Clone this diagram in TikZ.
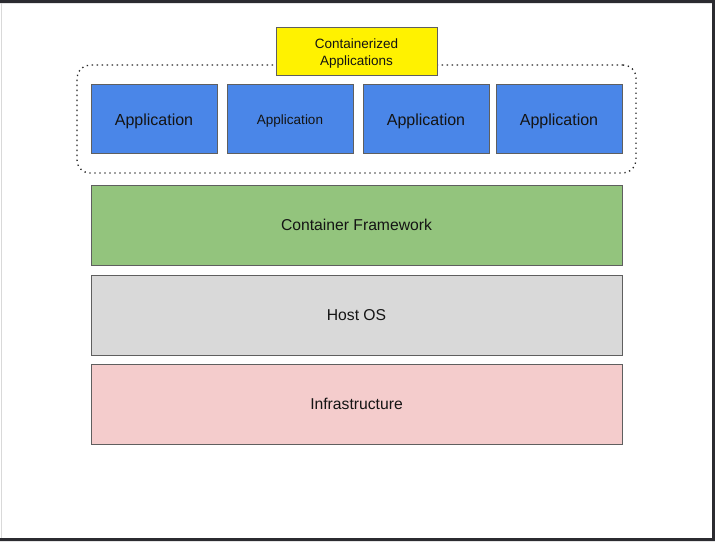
\documentclass[tikz,border=0pt]{standalone}
\usepackage{fontspec}
\setmainfont{Liberation Sans}
\usepackage{tikz}

\definecolor{appblue}{HTML}{4A86E8}
\definecolor{cfgreen}{HTML}{93C47D}
\definecolor{osgrey}{HTML}{D9D9D9}
\definecolor{infrapink}{HTML}{F4CCCC}
\definecolor{edgegrey}{HTML}{5F5F5F}
\definecolor{framedark}{HTML}{2B2B30}

\begin{document}
\begin{tikzpicture}[x=1pt,y=-1pt,
  box/.style={draw=edgegrey,line width=0.9pt,inner sep=0pt,align=center,text=black!92},
  app/.style={box,fill=appblue,minimum width=126pt,minimum height=69pt,
    text height=16.7pt,text depth=3.4pt,font=\fontsize{16}{19}\selectfont},
  layer/.style={box,minimum width=531pt,minimum height=80pt,
    text height=15pt,text depth=3.3pt,font=\fontsize{15.7}{18}\selectfont}]
\useasboundingbox (0,0) rectangle (715,541);
\fill[white] (0,0) rectangle (715,541);
\fill[framedark] (0,0) rectangle (715,3)  (712,0) rectangle (715,541)  (0,538) rectangle (715,541);
\draw[black!15,line width=0.8pt] (1.5,3) -- (1.5,538);

\draw (356.5,119) node[draw=black!85,line width=1.3pt,dash pattern=on 1.3pt off 3.7pt,rounded corners=13pt,
  minimum width=559pt,minimum height=108pt] (group) {} ;

\draw (356.5,51) node[box,fill=yellow,minimum width=161pt,minimum height=48pt,
  font=\fontsize{13.5}{17}\selectfont] (title) {\rule{0pt}{15.2pt}Containerized\\Applications} ;

\draw (154,118.5) node[app] (app1) {Application} ;
\draw (290,118.5) node[app,text height=14.8pt,text depth=2.9pt,font=\fontsize{13.5}{16}\selectfont] (app2) {Application} ;
\draw (426,118.5) node[app] (app3) {Application} ;
\draw (559,118.5) node[app] (app4) {Application} ;

\draw (356.5,225) node[layer,fill=cfgreen] (cf) {Container Framework} ;
\draw (356.5,315) node[layer,fill=osgrey] (os) {Host OS} ;
\draw (356.5,404) node[layer,fill=infrapink] (infra) {Infrastructure} ;

\end{tikzpicture}
\end{document}
